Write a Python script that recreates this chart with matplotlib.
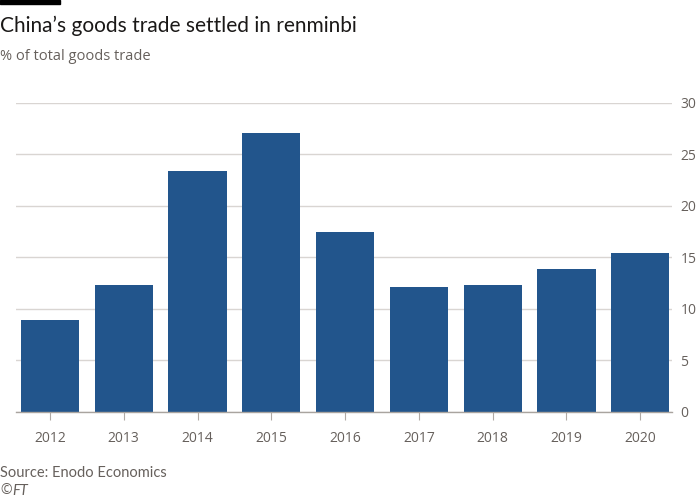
import matplotlib
matplotlib.use("Agg")
import matplotlib.pyplot as plt
from matplotlib.patches import Rectangle

years = ["2012", "2013", "2014", "2015", "2016", "2017", "2018", "2019", "2020"]
share = [8.9, 12.3, 23.4, 27.1, 17.5, 12.1, 12.3, 13.9, 15.4]
yticks = [0, 5, 10, 15, 20, 25, 30]

plt.rcParams['font.family'] = ['Open Sans', 'DejaVu Sans']

W, H = 700, 499
fig = plt.figure(figsize=(W/100, H/100), dpi=100)
fig.patch.set_facecolor("white")

ax = fig.add_axes([16/W, 1-411.5/H, (672-16)/W, (411.5-103)/H])
x = list(range(len(years)))
ax.bar(x, share, width=0.79, color="#22558c", zorder=3)
ax.set_xlim(-0.46, 8.43)
ax.set_ylim(0, 30)
ax.set_yticks(yticks)
ax.set_yticklabels([str(t) for t in yticks])
ax.yaxis.tick_right()
ax.tick_params(axis="y", length=0, pad=6, labelsize=10, labelcolor="#66605c")
ax.set_xticks(x)
ax.set_xticklabels(years)
ax.tick_params(axis="x", length=6, width=0.8, color="#b0aaa5", pad=8, labelsize=10, labelcolor="#66605c")
ax.grid(axis="y", color="#d9d5d2", linewidth=1, zorder=0)
for s in ["top", "right", "left"]:
    ax.spines[s].set_visible(False)
ax.spines["bottom"].set_color("#a9a49f")
ax.spines["bottom"].set_linewidth(1)
ax.spines["bottom"].set_zorder(4)

fig.patches.append(Rectangle((0, 1-4/H), 60/W, 4/H, transform=fig.transFigure, color="black"))
fig.text(0/W, 1-26/H, "China\u2019s goods trade settled in renminbi", fontsize=15, color="#1a1817",
         va="center", ha="left", family=["Lato", "DejaVu Sans"])
fig.text(0/W, 1-57/H, "% of total goods trade", fontsize=10.5, color="#66605c", va="center", ha="left")
fig.text(0/W, 1-473/H, "Source: Enodo Economics", fontsize=10.5, color="#66605c", va="center", ha="left",
         family=["Lato", "DejaVu Sans"])
fig.text(0/W, 1-491/H, "\u00a9", fontsize=10, color="#66605c", va="center", ha="left")
fig.text(12/W, 1-491/H, "FT", fontsize=10.5, color="#66605c", va="center", ha="left", style="italic",
         family=["Lato", "DejaVu Sans"])

fig.savefig("out.png", dpi=100, facecolor="white")
